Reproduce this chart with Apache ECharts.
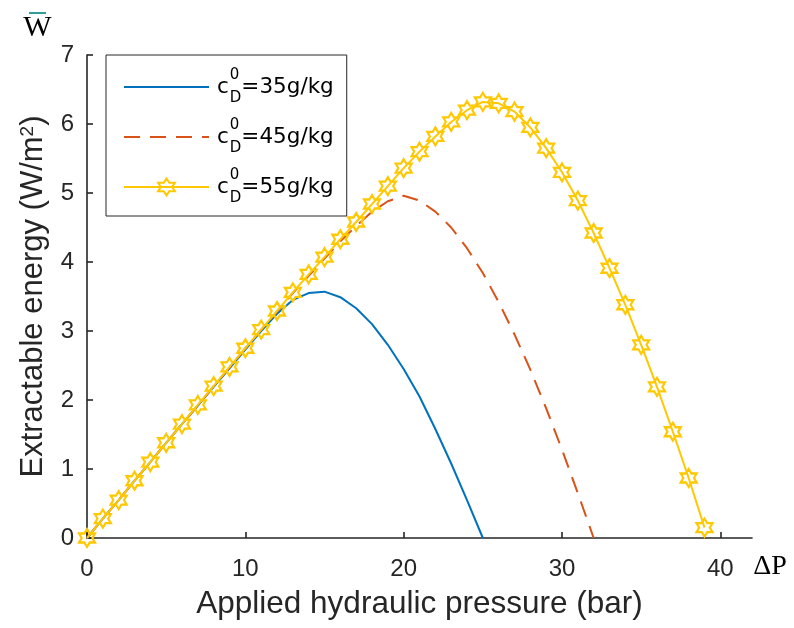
<!DOCTYPE html>
<html>
<head>
<meta charset="utf-8">
<script src="https://cdn.jsdelivr.net/npm/echarts@6/dist/echarts.min.js"></script>
<style>html,body{margin:0;padding:0;background:#fff;}#chart{width:794px;height:628px;}</style>
</head>
<body>
<div id="chart"></div>
<script>
// Applied hydraulic pressure (bar) and extractable energy (W/m^2)
const pressure35 = [0,1,2,3,4,5,6,7,8,9,10,11,12,13,14,15,16,17,18,19,20,21,22,23,24,25];
const energy35   = [0,0.28,0.55,0.83,1.10,1.38,1.65,1.92,2.19,2.46,2.73,3.00,3.25,3.45,3.55,3.57,3.49,3.33,3.10,2.80,2.45,2.05,1.58,1.08,0.55,0];

const pressure45 = [0,1,2,3,4,5,6,7,8,9,10,11,12,13,14,15,16,17,18,19,20,21,22,23,24,25,26,27,28,29,30,31,32];
const energy45   = [0,0.28,0.55,0.83,1.10,1.38,1.65,1.92,2.20,2.47,2.75,3.02,3.28,3.55,3.80,4.05,4.30,4.52,4.73,4.88,4.96,4.89,4.73,4.50,4.20,3.84,3.42,2.95,2.44,1.88,1.28,0.65,0];

const pressure55 = [0,1,2,3,4,5,6,7,8,9,10,11,12,13,14,15,16,17,18,19,20,21,22,23,24,25,26,27,28,29,30,31,32,33,34,35,36,37,38,39];
const energy55   = [0,0.28,0.55,0.83,1.10,1.38,1.65,1.93,2.20,2.48,2.75,3.02,3.29,3.56,3.82,4.07,4.33,4.58,4.84,5.10,5.36,5.60,5.82,6.03,6.20,6.32,6.30,6.18,5.95,5.65,5.30,4.89,4.42,3.91,3.38,2.80,2.19,1.54,0.87,0.15];

const seriesNames = ['c35','c45','c55'];
const legendValues = {c35:'=35g/kg', c45:'=45g/kg', c55:'=55g/kg'};
const xTicks = [0,10,20,30,40];

const zip = (xs, ys) => xs.map((x, i) => [x, ys[i]]);
const axisColor = '#262626';
const sans = '"Liberation Sans", Arial, sans-serif';
const legendFont = '"DejaVu Sans", sans-serif';
const serif = '"Liberation Serif", "Times New Roman", serif';
const star = 'path://M0,-10 L2.887,-5 L8.66,-5 L5.774,0 L8.66,5 L2.887,5 L0,10 L-2.887,5 L-8.66,5 L-5.774,0 L-8.66,-5 L-2.887,-5 Z';
const clear = 'rgba(0,0,0,0)';

const chart = echarts.init(document.getElementById('chart'), null, {renderer: 'canvas'});
chart.setOption({
  animation: false,
  backgroundColor: '#fff',
  grid: {left: 87, right: 42, top: 55, bottom: 90, containLabel: false},
  legend: {
    orient: 'vertical',
    left: 106, top: 55,
    padding: [13, 13, 10, 17],
    itemWidth: 85, itemHeight: 21, itemGap: 12,
    borderColor: axisColor, borderWidth: 1,
    backgroundColor: '#fff',
    data: seriesNames,
    formatter: n => '{c|c}{sup|0}{sub|D}{t|' + legendValues[n] + '}',
    textStyle: {
      color: '#000',
      rich: {
        c: {fontFamily: legendFont, fontSize: 21.5, lineHeight: 38, verticalAlign: 'middle', padding: [0, 1, 0, 3]},
        sup: {fontFamily: legendFont, fontSize: 15, lineHeight: 15, width: 0, verticalAlign: 'top'},
        sub: {fontFamily: legendFont, fontSize: 15, lineHeight: 15, verticalAlign: 'bottom'},
        t: {fontFamily: legendFont, fontSize: 21.5, lineHeight: 38, verticalAlign: 'middle'}
      }
    }
  },
  xAxis: {
    type: 'value', min: 0, max: 42, interval: 10,
    name: 'Applied hydraulic pressure (bar)',
    nameLocation: 'middle', nameGap: 50,
    nameTextStyle: {fontFamily: sans, fontSize: 31.5, color: axisColor},
    axisLine: {show: true, lineStyle: {color: axisColor, width: 1.6}},
    axisTick: {show: true, inside: true, length: 6, lineStyle: {color: axisColor, width: 1.6}, customValues: xTicks},
    axisLabel: {fontFamily: sans, fontSize: 24, color: axisColor, margin: 19, customValues: xTicks},
    splitLine: {show: false}
  },
  yAxis: {
    type: 'value', min: 0, max: 7, interval: 1,
    name: '{a|Extractable energy (W/m}{s|2}{a|)}',
    nameLocation: 'middle', nameGap: 38, nameRotate: 90,
    nameTextStyle: {
      color: axisColor,
      rich: {
        a: {fontFamily: sans, fontSize: 31, lineHeight: 31, color: axisColor},
        s: {fontFamily: sans, fontSize: 19, lineHeight: 19, verticalAlign: 'top', color: axisColor}
      }
    },
    axisLine: {show: true, lineStyle: {color: axisColor, width: 1.6}},
    axisTick: {show: true, inside: true, length: 6, lineStyle: {color: axisColor, width: 1.6}},
    axisLabel: {fontFamily: sans, fontSize: 24, color: axisColor, margin: 13},
    splitLine: {show: false}
  },
  series: [
    {
      name: 'c35', type: 'line', data: zip(pressure35, energy35),
      showSymbol: false, symbol: 'circle', color: '#0072BD',
      lineStyle: {color: '#0072BD', width: 2},
      itemStyle: {color: clear, borderColor: clear, borderWidth: 0}
    },
    {
      name: 'c45', type: 'line', data: zip(pressure45, energy45),
      showSymbol: false, symbol: 'circle', color: '#D95319',
      lineStyle: {color: '#D95319', width: 2, type: [16, 10]},
      itemStyle: {color: clear, borderColor: clear, borderWidth: 0}
    },
    {
      name: 'c55', type: 'line', data: zip(pressure55, energy55),
      symbol: star, symbolSize: [16, 18], showSymbol: true, color: '#FFC800',
      lineStyle: {color: '#FFC800', width: 2},
      itemStyle: {color: clear, borderColor: '#FFC800', borderWidth: 2.2}
    }
  ],
  graphic: [
    {type: 'text', x: 37.5, y: 28, style: {text: 'W', font: '30px ' + serif, fill: '#000', align: 'center', verticalAlign: 'middle'}},
    {type: 'line', shape: {x1: 29, y1: 13, x2: 46, y2: 13}, style: {stroke: '#2e9e96', lineWidth: 2}},
    {type: 'text', x: 770, y: 567, style: {text: 'ΔP', font: '28px ' + serif, fill: '#000', align: 'center', verticalAlign: 'middle'}}
  ]
});
</script>
</body>
</html>
